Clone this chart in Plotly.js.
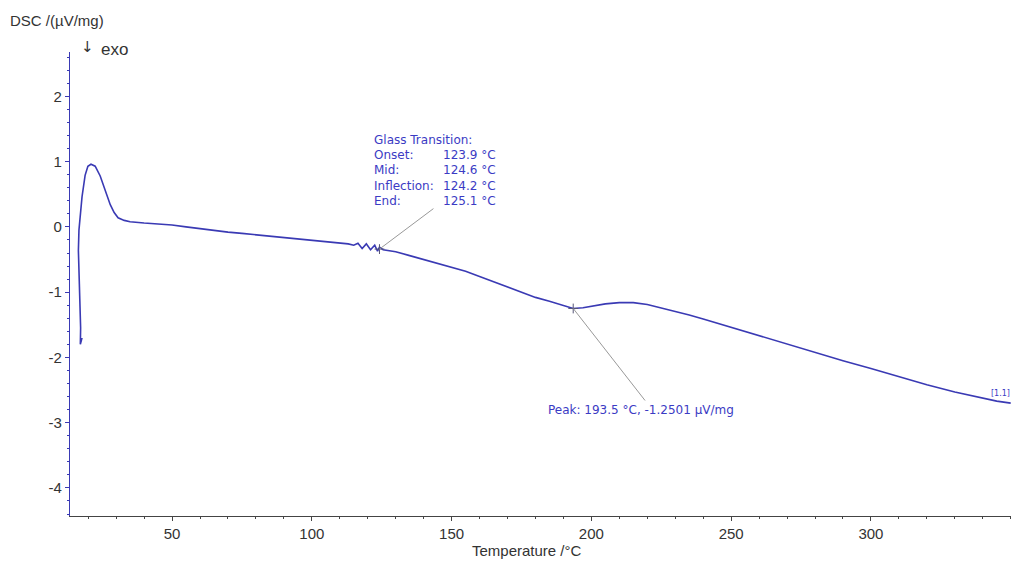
<!DOCTYPE html>
<html>
<head>
<meta charset="utf-8">
<script src="https://cdn.plot.ly/plotly-3.0.1.min.js"></script>
<style>html,body{margin:0;padding:0;background:#fff;}#chart{width:1011px;height:562px;}</style>
</head>
<body>
<div id="chart"></div>
<script>
// Temperature (°C) and DSC signal (µV/mg)
const tempC = [17.8, 17.2, 17.3, 17.0, 16.7, 16.5, 16.7, 17.3, 17.8, 18.9, 19.9, 21.0, 22.5, 24.3, 25.7, 26.8, 27.9, 29.3, 30.7, 32.9, 35,
  40, 45, 50, 55, 60, 65, 70, 75, 80, 85, 90, 95, 100, 105, 110, 113,
  115, 116.5, 118, 119.5, 121, 122.5, 123.5, 124.2, 125.5, 130, 135, 140, 145, 150, 155, 160, 165, 170, 175, 180, 185, 190, 193.5,
  197, 200, 205, 210, 215, 220, 225, 230, 235, 240, 250, 260, 270, 280, 290, 300, 310, 320, 330, 340, 345, 350];
const dscValues = [-1.70, -1.80, -1.55, -1.10, -0.70, -0.36, -0.05, 0.26, 0.46, 0.79, 0.93, 0.96, 0.93, 0.78, 0.62, 0.48, 0.34, 0.22, 0.14, 0.10, 0.08,
  0.06, 0.05, 0.03, 0.00, -0.03, -0.06, -0.08, -0.10, -0.12, -0.15, -0.17, -0.19, -0.20, -0.22, -0.25, -0.26,
  -0.28, -0.25, -0.33, -0.26, -0.35, -0.28, -0.37, -0.31, -0.35, -0.38, -0.44, -0.50, -0.55, -0.61, -0.68, -0.76, -0.84, -0.93, -1.01, -1.08, -1.14, -1.20, -1.25,
  -1.24, -1.22, -1.18, -1.16, -1.16, -1.19, -1.24, -1.29, -1.35, -1.41, -1.54, -1.67, -1.80, -1.92, -2.05, -2.17, -2.30, -2.42, -2.53, -2.63, -2.67, -2.70];

// Evaluation results
const glassLabels = ["Glass Transition:", "Onset:", "Mid:", "Inflection:", "End:"];
const glassValues = ["", "123.9 °C", "124.6 °C", "124.2 °C", "125.1 °C"];
const glassPoint = {t: 124.2, v: -0.34};
const peakPoint = {t: 193.5, v: -1.2501};
const peakLabel = "Peak: 193.5 °C, -1.2501 µV/mg";
const xTicks = [50, 100, 150, 200, 250, 300];
const yTicks = [-4, -3, -2, -1, 0, 1, 2];
const yTickText = ["-4", "-3", "-2", "-1", "0", "1", "2"];

const blue = "#3a3ab4";
const textBlue = "#3b3bc4";
const font = "Liberation Sans, Arial, sans-serif";
const smallFont = "DejaVu Sans, Verdana, sans-serif";

// plot area in pixels: left 70, width 941, top 52, height 464
const px = v => (v - 70) / 941;
const py = v => (516 - v) / 464;

const traces = [
  {x: tempC, y: dscValues, type: "scatter", mode: "lines",
   line: {color: blue, width: 1.6}, hoverinfo: "skip"},
  {x: [glassPoint.t, peakPoint.t], y: [glassPoint.v, peakPoint.v], type: "scatter", mode: "markers",
   marker: {symbol: "cross-thin", size: 7, line: {color: "#555577", width: 1}}, hoverinfo: "skip"}
];

const annotations = [
  {text: "DSC /(µV/mg)", xref: "paper", yref: "paper", x: px(8), y: py(20), xanchor: "left", yanchor: "middle",
   showarrow: false, font: {size: 15, color: "#333"}},
  {text: "↓", xref: "paper", yref: "paper", x: px(87), y: py(47), xanchor: "center", yanchor: "middle",
   showarrow: false, font: {family: smallFont, size: 15, color: "#333"}},
  {text: "exo", xref: "paper", yref: "paper", x: px(99), y: py(49), xanchor: "left", yanchor: "middle",
   showarrow: false, font: {size: 17, color: "#333"}},
  {text: "Temperature /°C", xref: "paper", yref: "paper", x: px(527), y: py(550), xanchor: "center", yanchor: "middle",
   showarrow: false, font: {size: 15, color: "#333"}},
  {text: peakLabel, xref: "paper", yref: "paper", x: px(641), y: py(410), xanchor: "center", yanchor: "middle",
   showarrow: false, font: {family: smallFont, size: 12, color: textBlue}},
  {text: "[1.1]", xref: "x", yref: "y", x: 346.5, y: -2.55, xanchor: "center", yanchor: "middle",
   showarrow: false, font: {family: smallFont, size: 8, color: textBlue}}
];
glassLabels.forEach((lab, i) => {
  annotations.push({text: lab, xref: "paper", yref: "paper", x: px(373), y: py(140 + 15.2 * i),
    xanchor: "left", yanchor: "middle", showarrow: false, borderpad: 0,
    font: {family: smallFont, size: 12, color: textBlue}});
  if (glassValues[i]) annotations.push({text: glassValues[i], xref: "paper", yref: "paper", x: px(442), y: py(140 + 15.2 * i),
    xanchor: "left", yanchor: "middle", showarrow: false, borderpad: 0,
    font: {family: smallFont, size: 12, color: textBlue}});
});

const layout = {
  width: 1011, height: 562,
  margin: {l: 70, r: 0, t: 52, b: 46},
  paper_bgcolor: "#fff", plot_bgcolor: "#fff",
  showlegend: false,
  font: {family: font, size: 15, color: "#333"},
  xaxis: {
    range: [13.5, 350.1], tickvals: xTicks, ticks: "outside", ticklen: 4, tickcolor: "#444",
    showline: true, linecolor: "#444", linewidth: 1.2, showgrid: false, zeroline: false,
    minor: {dtick: 10, ticks: "outside", ticklen: 2, tickcolor: "#444"},
    tickfont: {size: 15, color: "#333"}
  },
  yaxis: {
    range: [-4.43, 2.68], tickvals: yTicks, ticktext: yTickText, ticks: "outside", ticklen: 4, tickcolor: "#3a3ab4",
    showline: true, linecolor: "#3a3ab4", linewidth: 1.2, showgrid: false, zeroline: false,
    minor: {dtick: 0.2, ticks: "outside", ticklen: 2, tickcolor: "#3a3ab4"},
    tickfont: {size: 15, color: "#333"}
  },
  shapes: [
    {type: "line", xref: "x", yref: "y", x0: glassPoint.t, y0: glassPoint.v, x1: 143.5, y1: 0.28,
     line: {color: "#999", width: 1}},
    {type: "line", xref: "x", yref: "y", x0: peakPoint.t, y0: peakPoint.v, x1: 219.2, y1: -2.66,
     line: {color: "#999", width: 1}}
  ],
  annotations: annotations
};

Plotly.newPlot("chart", traces, layout, {displayModeBar: false, staticPlot: true});
</script>
</body>
</html>
